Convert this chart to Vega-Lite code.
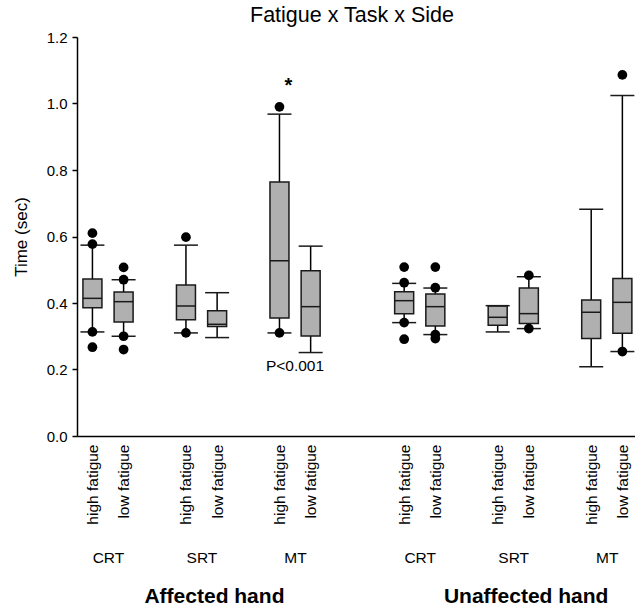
{
  "$schema": "https://vega.github.io/schema/vega-lite/v6.json",
  "autosize": {"type": "none"},
  "padding": {"left": 77, "top": 37, "right": 0, "bottom": 174},
  "width": 558,
  "height": 399,
  "title": {"text": "Fatigue x Task x Side", "fontSize": 21.5, "fontWeight": "normal", "font": "Liberation Sans", "color": "black", "anchor": "middle", "offset": 4, "dx": -4},
  "config": {
    "view": {"stroke": null},
    "font": "Liberation Sans",
    "axis": {"labelFont": "Liberation Sans", "titleFont": "Liberation Sans", "labelColor": "black", "titleColor": "black", "grid": false},
    "axisY": {"titleFontSize": 17, "titleFontWeight": "normal", "labelFontSize": 15}
  },
  "datasets": {
    "boxes": [
      {"side": "A", "task": "CRT", "fatigue": "high", "key": "A-CRT-high", "lower": 0.313, "q1": 0.386, "median": 0.414, "q3": 0.472, "upper": 0.574},
      {"side": "A", "task": "CRT", "fatigue": "low", "key": "A-CRT-low", "lower": 0.300, "q1": 0.343, "median": 0.404, "q3": 0.433, "upper": 0.470},
      {"side": "A", "task": "SRT", "fatigue": "high", "key": "A-SRT-high", "lower": 0.310, "q1": 0.350, "median": 0.391, "q3": 0.454, "upper": 0.574},
      {"side": "A", "task": "SRT", "fatigue": "low", "key": "A-SRT-low", "lower": 0.296, "q1": 0.329, "median": 0.336, "q3": 0.377, "upper": 0.431},
      {"side": "A", "task": "MT", "fatigue": "high", "key": "A-MT-high", "lower": 0.310, "q1": 0.355, "median": 0.527, "q3": 0.764, "upper": 0.968},
      {"side": "A", "task": "MT", "fatigue": "low", "key": "A-MT-low", "lower": 0.251, "q1": 0.301, "median": 0.389, "q3": 0.497, "upper": 0.571},
      {"side": "U", "task": "CRT", "fatigue": "high", "key": "U-CRT-high", "lower": 0.341, "q1": 0.368, "median": 0.407, "q3": 0.434, "upper": 0.459},
      {"side": "U", "task": "CRT", "fatigue": "low", "key": "U-CRT-low", "lower": 0.305, "q1": 0.331, "median": 0.389, "q3": 0.427, "upper": 0.445},
      {"side": "U", "task": "SRT", "fatigue": "high", "key": "U-SRT-high", "lower": 0.313, "q1": 0.333, "median": 0.357, "q3": 0.391, "upper": 0.392},
      {"side": "U", "task": "SRT", "fatigue": "low", "key": "U-SRT-low", "lower": 0.323, "q1": 0.338, "median": 0.368, "q3": 0.445, "upper": 0.479},
      {"side": "U", "task": "MT", "fatigue": "high", "key": "U-MT-high", "lower": 0.208, "q1": 0.293, "median": 0.372, "q3": 0.409, "upper": 0.682},
      {"side": "U", "task": "MT", "fatigue": "low", "key": "U-MT-low", "lower": 0.254, "q1": 0.309, "median": 0.402, "q3": 0.474, "upper": 1.024}
    ],
    "outliers": [
      {"key": "A-CRT-high", "value": 0.610}, {"key": "A-CRT-high", "value": 0.577}, {"key": "A-CRT-high", "value": 0.313}, {"key": "A-CRT-high", "value": 0.267},
      {"key": "A-CRT-low", "value": 0.507}, {"key": "A-CRT-low", "value": 0.470}, {"key": "A-CRT-low", "value": 0.300}, {"key": "A-CRT-low", "value": 0.260},
      {"key": "A-SRT-high", "value": 0.598}, {"key": "A-SRT-high", "value": 0.310},
      {"key": "A-MT-high", "value": 0.990}, {"key": "A-MT-high", "value": 0.310},
      {"key": "U-CRT-high", "value": 0.508}, {"key": "U-CRT-high", "value": 0.461}, {"key": "U-CRT-high", "value": 0.341}, {"key": "U-CRT-high", "value": 0.291},
      {"key": "U-CRT-low", "value": 0.508}, {"key": "U-CRT-low", "value": 0.446}, {"key": "U-CRT-low", "value": 0.305}, {"key": "U-CRT-low", "value": 0.293},
      {"key": "U-SRT-low", "value": 0.483}, {"key": "U-SRT-low", "value": 0.323},
      {"key": "U-MT-low", "value": 1.086}, {"key": "U-MT-low", "value": 0.254}
    ],
    "notes": [
      {"key": "A-MT-high", "label": "*", "value": 1.035},
      {"key": "A-MT-high", "label": "P<0.001", "value": 0.21}
    ]
  },
  "encoding": {
    "x": {"field": "key", "type": "ordinal", "axis": null,
      "scale": {"type": "point", "padding": 0.45, "align": 0.55,
        "domain": ["A-CRT-high", "A-CRT-low", "_g1", "A-SRT-high", "A-SRT-low", "_g2", "A-MT-high", "A-MT-low", "_g3", "_g4", "U-CRT-high", "U-CRT-low", "_g5", "U-SRT-high", "U-SRT-low", "_g6", "U-MT-high", "U-MT-low"]}}
  },
  "layer": [
    {
      "data": {"name": "boxes"},
      "mark": {"type": "rule", "color": "black", "strokeWidth": 1.5},
      "encoding": {
        "x": {"field": "key", "type": "ordinal",
          "scale": {"type": "point", "padding": 0.45, "align": 0.55,
            "domain": ["A-CRT-high", "A-CRT-low", "_g1", "A-SRT-high", "A-SRT-low", "_g2", "A-MT-high", "A-MT-low", "_g3", "_g4", "U-CRT-high", "U-CRT-low", "_g5", "U-SRT-high", "U-SRT-low", "_g6", "U-MT-high", "U-MT-low"]},
          "axis": {"orient": "bottom", "title": null, "values": ["A-CRT-high", "A-CRT-low", "A-SRT-high", "A-SRT-low", "A-MT-high", "A-MT-low", "U-CRT-high", "U-CRT-low", "U-SRT-high", "U-SRT-low", "U-MT-high", "U-MT-low"],
            "labelExpr": "indexof(datum.value, 'high') >= 0 ? 'high fatigue' : 'low fatigue'",
            "labelAngle": 270, "labelFontSize": 15.5, "labelPadding": 8, "ticks": false, "tickSize": 0,
            "domain": true, "domainColor": "black", "domainWidth": 1.5, "labelOverlap": false}},
        "y": {"field": "lower", "type": "quantitative",
          "scale": {"domain": [0, 1.2], "nice": false, "zero": true},
          "axis": {"orient": "left", "title": "Time (sec)", "titleFontSize": 17, "titleFontWeight": "normal", "titlePadding": 16,
            "values": [0, 0.2, 0.4, 0.6, 0.8, 1.0, 1.2], "format": ".1f", "labelFontSize": 15, "labelPadding": 5,
            "tickSize": 5, "tickColor": "black", "tickWidth": 1.5, "domainColor": "black", "domainWidth": 1.5}},
        "y2": {"field": "upper"}
      }
    },
    {
      "data": {"name": "boxes"},
      "mark": {"type": "bar", "width": 19, "fill": "#b0b0b0", "stroke": "#1a1a1a", "strokeWidth": 1.5},
      "encoding": {
        "y": {"field": "q1", "type": "quantitative", "scale": {"domain": [0, 1.2], "nice": false}, "axis": null},
        "y2": {"field": "q3"}
      }
    },
    {
      "data": {"name": "boxes"},
      "mark": {"type": "tick", "size": 19, "thickness": 1.5, "color": "#1a1a1a", "opacity": 1},
      "encoding": {
        "y": {"field": "median", "type": "quantitative", "scale": {"domain": [0, 1.2], "nice": false}, "axis": null}
      }
    },
    {
      "data": {"name": "boxes"},
      "mark": {"type": "tick", "size": 24, "thickness": 1.5, "color": "#1a1a1a", "opacity": 1},
      "encoding": {
        "y": {"field": "lower", "type": "quantitative", "scale": {"domain": [0, 1.2], "nice": false}, "axis": null}
      }
    },
    {
      "data": {"name": "boxes"},
      "mark": {"type": "tick", "size": 24, "thickness": 1.5, "color": "#1a1a1a", "opacity": 1},
      "encoding": {
        "y": {"field": "upper", "type": "quantitative", "scale": {"domain": [0, 1.2], "nice": false}, "axis": null}
      }
    },
    {
      "data": {"name": "outliers"},
      "mark": {"type": "circle", "size": 95, "color": "black", "opacity": 1},
      "encoding": {
        "y": {"field": "value", "type": "quantitative", "scale": {"domain": [0, 1.2], "nice": false}, "axis": null}
      }
    },
    {
      "data": {"name": "notes"},
      "transform": [{"filter": "datum.label == '*'"}],
      "mark": {"type": "text", "fontSize": 20, "fontWeight": "bold", "dx": 9, "baseline": "alphabetic", "align": "center", "color": "black"},
      "encoding": {
        "x": {"field": "key", "type": "ordinal",
          "scale": {"type": "point", "padding": 0.45, "align": 0.55,
            "domain": ["A-CRT-high", "A-CRT-low", "_g1", "A-SRT-high", "A-SRT-low", "_g2", "A-MT-high", "A-MT-low", "_g3", "_g4", "U-CRT-high", "U-CRT-low", "_g5", "U-SRT-high", "U-SRT-low", "_g6", "U-MT-high", "U-MT-low"]},
          "axis": {"orient": "bottom", "title": null, "values": ["A-CRT-high", "A-SRT-high", "A-MT-high", "U-CRT-high", "U-SRT-high", "U-MT-high"],
            "labelExpr": "split(datum.value, '-')[1]", "labelAngle": 0, "labelFontSize": 15.5, "labelOffset": 15.5,
            "offset": 108, "labelPadding": 6, "ticks": false, "tickSize": 0, "domain": false, "labelOverlap": false}},
        "y": {"field": "value", "type": "quantitative", "scale": {"domain": [0, 1.2], "nice": false}, "axis": null},
        "text": {"field": "label"}
      }
    },
    {
      "data": {"name": "notes"},
      "transform": [{"filter": "datum.label != '*'"}],
      "mark": {"type": "text", "fontSize": 15.5, "dx": 15.5, "baseline": "middle", "align": "center", "color": "black"},
      "encoding": {
        "x": {"field": "key", "type": "ordinal",
          "scale": {"type": "point", "padding": 0.45, "align": 0.55,
            "domain": ["A-CRT-high", "A-CRT-low", "_g1", "A-SRT-high", "A-SRT-low", "_g2", "A-MT-high", "A-MT-low", "_g3", "_g4", "U-CRT-high", "U-CRT-low", "_g5", "U-SRT-high", "U-SRT-low", "_g6", "U-MT-high", "U-MT-low"]},
          "axis": {"orient": "bottom", "title": null, "values": ["A-SRT-high", "U-SRT-high"],
            "labelExpr": "datum.value[0] == 'A' ? 'Affected hand' : 'Unaffected hand'", "labelAngle": 0, "labelFontSize": 21, "labelFontWeight": "bold", "labelOffset": 28,
            "offset": 143, "labelPadding": 6, "ticks": false, "tickSize": 0, "domain": false, "labelOverlap": false}},
        "y": {"field": "value", "type": "quantitative", "scale": {"domain": [0, 1.2], "nice": false}, "axis": null},
        "text": {"field": "label"}
      }
    }
  ],
  "resolve": {"axis": {"x": "independent", "y": "independent"}}
}
